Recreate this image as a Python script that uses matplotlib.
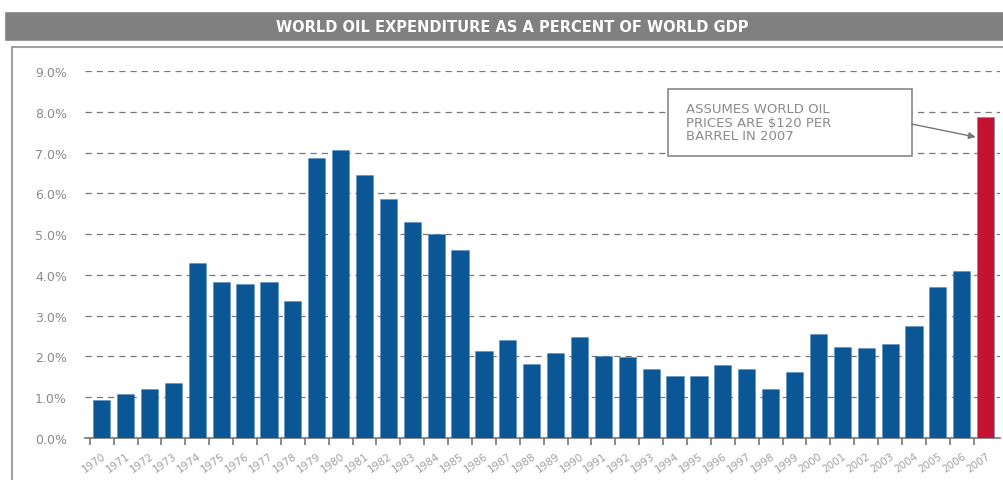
import matplotlib.pyplot as plt
from matplotlib.patches import Rectangle
import numpy as np

years = [str(y) for y in range(1970, 2008)]
oil_share = [0.93, 1.08, 1.20, 1.35, 4.29, 3.82, 3.77, 3.82, 3.36, 6.86,
             7.06, 6.45, 5.86, 5.29, 5.00, 4.61, 2.13, 2.40, 1.81, 2.08,
             2.48, 2.01, 1.99, 1.69, 1.52, 1.52, 1.79, 1.69, 1.20, 1.62,
             2.55, 2.23, 2.20, 2.30, 2.75, 3.70, 4.09, 7.87]
y_ticks = [0, 1, 2, 3, 4, 5, 6, 7, 8, 9]

plt.rcParams['font.family'] = ['DejaVu Sans']

fig = plt.figure(figsize=(10.04, 4.81), dpi=100)

# title banner and outer frame
fig.patches.append(Rectangle((5 / 1004, 1 - 41 / 481), 1, 28 / 481,
                             transform=fig.transFigure, facecolor='#808080',
                             edgecolor='#9a9a9a', lw=0.8))
fig.text(512 / 1004, 1 - 27 / 481,
         'WORLD OIL EXPENDITURE AS A PERCENT OF WORLD GDP',
         color='white', fontsize=10.5, fontweight='bold', ha='center', va='center')
fig.patches.append(Rectangle((12 / 1004, -0.05), 1.0, 1.05 - 48 / 481,
                             transform=fig.transFigure, facecolor='none',
                             edgecolor='#a0a0a0', lw=1.5))

ax = fig.add_axes([85 / 1004, 1 - 439 / 481, 915 / 1004, (439 - 72) / 481])
x = np.arange(len(years))
colors = ['#0b5796'] * (len(years) - 1) + ['#c41230']
ax.bar(x, oil_share, width=0.72, color=colors, edgecolor='#5b8fc0', lw=0.4, zorder=3)

ax.set_xlim(-0.7, len(years) - 0.4)
ax.set_ylim(0, 9)
ax.set_yticks(y_ticks)
ax.set_yticklabels([f'{v:.1f}%' for v in y_ticks])
ax.yaxis.grid(True, linestyle=(0, (5, 4)), color='#777777', lw=0.9)
ax.set_axisbelow(True)
ax.tick_params(axis='y', length=0, pad=13, labelsize=9, labelcolor='#8a8a8a')

ax.set_xticks(x)
ax.set_xticklabels(years, rotation=35, ha='right', rotation_mode='anchor')
ax.set_xticks(x - 0.5, minor=True)
ax.tick_params(axis='x', which='major', length=0, pad=9, labelsize=7.5, labelcolor='#a0a0a0')
ax.tick_params(axis='x', which='minor', length=5, width=1.2, color='#777777', direction='out')

for s in ['top', 'right', 'left']:
    ax.spines[s].set_visible(False)
ax.spines['bottom'].set_color('#777777')
ax.spines['bottom'].set_linewidth(1.2)

# note box with arrow to the 2007 bar
ax.add_patch(Rectangle((23.7, 6.92), 10.2, 1.64, facecolor='white',
                       edgecolor='#888888', lw=1.2, zorder=5))
ax.text(24.45, 7.74, 'ASSUMES WORLD OIL\nPRICES ARE $120 PER\nBARREL IN 2007',
        fontsize=9.5, color='#8a8a8a', ha='left', va='center', linespacing=1.05,
        zorder=6)
ax.annotate('', xy=(len(years) - 1.42, 7.38), xytext=(33.9, 7.70),
            arrowprops=dict(arrowstyle='-|>', color='#777777', lw=1.0,
                            shrinkA=0, shrinkB=0), zorder=6)

fig.savefig('out.png', dpi=100)
